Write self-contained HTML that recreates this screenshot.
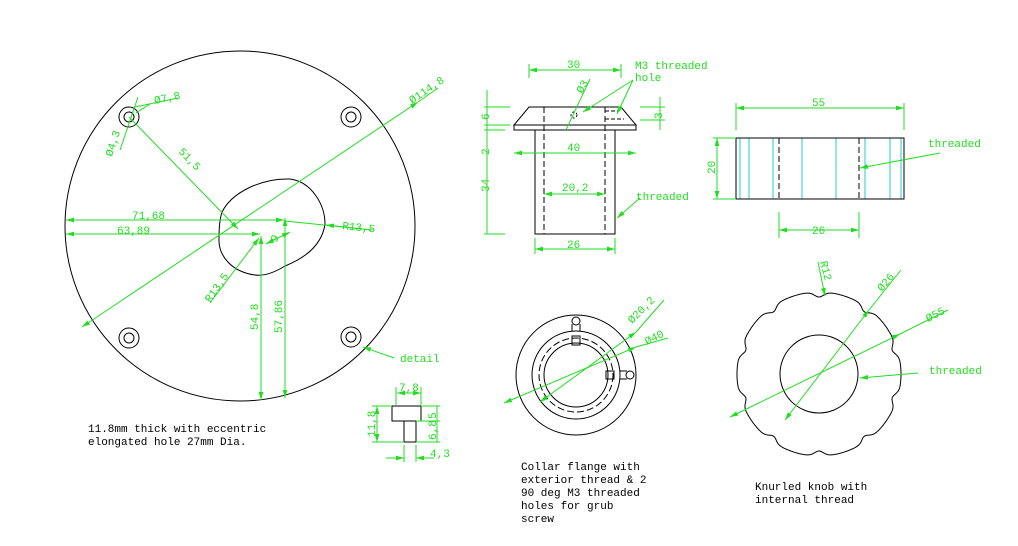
<!DOCTYPE html>
<html><head><meta charset="utf-8"><style>
html,body{margin:0;padding:0;background:#fff}
svg{display:block}
text{font-family:"Liberation Mono",monospace;font-size:11px}
.g{fill:#22dd22}
.k{stroke:#000;fill:none;stroke-width:1}
.gl{stroke:#22dd22;fill:none;stroke-width:1}
.c{stroke:#22cccc;fill:none;stroke-width:1}
.d{stroke:#000;fill:none;stroke-width:1;stroke-dasharray:6,3}
</style></head><body>
<svg width="1018" height="546" viewBox="0 0 1018 546" xmlns="http://www.w3.org/2000/svg">
<defs>
<marker id="a" viewBox="0 0 10 6" refX="10" refY="3" markerWidth="8" markerHeight="5" orient="auto-start-reverse"><path d="M0,0 L10,3 L0,6 Z" fill="#22dd22"/></marker>
</defs>
<!-- Big plate -->
<circle class="k" cx="240" cy="226" r="175"/>
<circle class="k" cx="129" cy="117" r="10"/><circle class="k" cx="129" cy="117" r="5"/>
<circle class="k" cx="351" cy="117" r="10"/><circle class="k" cx="351" cy="117" r="5"/>
<circle class="k" cx="129" cy="338" r="10"/><circle class="k" cx="129" cy="338" r="5"/>
<circle class="k" cx="351" cy="337" r="10"/><circle class="k" cx="351" cy="337" r="5"/>
<path class="k" d="M222,212 C232,192 262,178 290,179 C312,182 325,205 325,224 C322,245 305,258 285,266 C272,274 262,276 255,275 C232,272 218,256 219,238 C219,228 220,218 222,212 Z"/>
<g class="gl">
<line x1="66" y1="220" x2="284" y2="220" marker-start="url(#a)" marker-end="url(#a)"/>
<line x1="66" y1="234" x2="260" y2="234" marker-start="url(#a)" marker-end="url(#a)"/>
<line x1="261" y1="236" x2="261" y2="400" marker-start="url(#a)" marker-end="url(#a)"/>
<line x1="285" y1="218" x2="285" y2="398" marker-start="url(#a)" marker-end="url(#a)"/>
<line x1="82" y1="327" x2="418" y2="102" marker-start="url(#a)" marker-end="url(#a)"/>
<line x1="418" y1="102" x2="438" y2="88"/>
<line x1="129" y1="117" x2="238" y2="229" marker-end="url(#a)"/>
<line x1="285" y1="221" x2="372" y2="230" /><line x1="372" y1="230" x2="326" y2="225" marker-end="url(#a)"/>
<line x1="210" y1="303" x2="259" y2="238" marker-end="url(#a)"/>
<line x1="266" y1="244" x2="290" y2="232" marker-start="url(#a)" marker-end="url(#a)"/>
<line x1="135" y1="107" x2="178" y2="98"/><line x1="150" y1="104" x2="136" y2="113" />
<line x1="138" y1="97" x2="120" y2="150"/>
<line x1="394" y1="358" x2="363" y2="347" marker-end="url(#a)"/>
</g>
<text class="g" x="132" y="219">71,68</text>
<text class="g" x="117" y="234">63,89</text>
<text class="g" transform="translate(258,330) rotate(-90)">54,8</text>
<text class="g" transform="translate(282,333) rotate(-90)">57,86</text>
<text class="g" transform="translate(412,104) rotate(-34)">Ø114,8</text>
<text class="g" transform="translate(178,152) rotate(46)">51,5</text>
<text class="g" x="342" y="229" transform="rotate(6,342,229)">R13,5</text>
<text class="g" transform="translate(210,303) rotate(-55)">R13,5</text>
<text class="g" transform="translate(276,243) rotate(-60)">9</text>
<text class="g" x="155" y="104" transform="rotate(-12,155,104)">Ø7,8</text>
<text class="g" transform="translate(112,157) rotate(-72)">Ø4,3</text>
<text class="g" x="400" y="362">detail</text>
<text x="88" y="432">11.8mm thick with eccentric</text>
<text x="88" y="445">elongated hole 27mm Dia.</text>
<!-- detail -->
<path class="k" d="M392,406 H421 V421 H392 Z M404,421 V442 M416,421 V442 M404,442 H416"/>
<g class="gl">
<line x1="397" y1="393" x2="421" y2="393" marker-start="url(#a)" marker-end="url(#a)"/>
<line x1="396" y1="387" x2="396" y2="405"/><line x1="421" y1="387" x2="421" y2="405"/>
<line x1="377" y1="406" x2="377" y2="442" marker-start="url(#a)" marker-end="url(#a)"/>
<line x1="372" y1="406" x2="392" y2="406"/><line x1="372" y1="442" x2="404" y2="442"/>
<line x1="421" y1="406" x2="440" y2="406"/><line x1="416" y1="421" x2="440" y2="421"/><line x1="416" y1="442" x2="440" y2="442"/>
<line x1="437" y1="406" x2="437" y2="442"/>
<line x1="386" y1="458" x2="404" y2="458" marker-end="url(#a)"/><line x1="434" y1="458" x2="416" y2="458" marker-end="url(#a)"/>
<line x1="404" y1="445" x2="404" y2="462"/><line x1="416" y1="445" x2="416" y2="462"/>
</g>
<text class="g" x="399" y="391">7,8</text>
<text class="g" transform="translate(375,437) rotate(-90)">11,8</text>
<text class="g" transform="translate(436,419) rotate(-90)">5</text>
<text class="g" transform="translate(436,440) rotate(-90)">6,8</text>
<text class="g" x="430" y="457">4,3</text>
<!-- collar side -->
<path class="k" d="M529,107 H621 L636,125 H514 Z M514,125 H636 V130 H514 Z M535,130 V234 H615 V130"/>
<line class="d" x1="544" y1="107" x2="544" y2="234"/>
<line class="d" x1="605" y1="107" x2="605" y2="234"/>
<circle class="d" cx="574" cy="115" r="3" style="stroke-dasharray:2,2"/>
<path class="d" d="M605,111 H618 M605,119 H624" style="stroke-dasharray:4,2"/>
<g class="gl">
<line x1="529" y1="70" x2="621" y2="70" marker-start="url(#a)" marker-end="url(#a)"/>
<line x1="529" y1="64" x2="529" y2="78"/><line x1="621" y1="64" x2="621" y2="78"/>
<line x1="514" y1="153" x2="636" y2="153" marker-start="url(#a)" marker-end="url(#a)"/>
<line x1="544" y1="194" x2="605" y2="194" marker-start="url(#a)" marker-end="url(#a)"/>
<line x1="535" y1="249" x2="615" y2="249" marker-start="url(#a)" marker-end="url(#a)"/>
<line x1="535" y1="238" x2="535" y2="254"/><line x1="615" y1="238" x2="615" y2="254"/>
<line x1="487" y1="90" x2="487" y2="234"/>
<line x1="484" y1="107" x2="510" y2="107"/><line x1="484" y1="125" x2="510" y2="125"/><line x1="484" y1="130" x2="505" y2="130"/><line x1="484" y1="234" x2="505" y2="234"/>
<line x1="660" y1="97" x2="660" y2="130"/><line x1="640" y1="107" x2="665" y2="107"/><line x1="640" y1="120" x2="665" y2="120"/>
<line x1="590" y1="79" x2="566" y2="130"/>
<line x1="633" y1="80" x2="583" y2="112" marker-end="url(#a)"/>
<line x1="633" y1="80" x2="617" y2="114" marker-end="url(#a)"/>
<line x1="640" y1="198" x2="617" y2="218" marker-end="url(#a)"/>
</g>
<text class="g" x="567" y="68">30</text>
<text class="g" x="567" y="151">40</text>
<text class="g" x="562" y="191">20,2</text>
<text class="g" x="567" y="248">26</text>
<text class="g" transform="translate(489,120) rotate(-90)">6</text>
<text class="g" transform="translate(489,155) rotate(-90)">2</text>
<text class="g" transform="translate(489,192) rotate(-90)">34</text>
<text class="g" transform="translate(662,119) rotate(-90)">3</text>
<text class="g" transform="translate(582,94) rotate(-60)">Ø3</text>
<text class="g" x="635" y="69">M3 threaded</text>
<text class="g" x="635" y="81">hole</text>
<text class="g" x="636" y="200">threaded</text>
<!-- cylinder -->
<g class="c"><line x1="740" y1="138" x2="740" y2="199"/><line x1="749" y1="138" x2="749" y2="199"/><line x1="773" y1="138" x2="773" y2="199"/><line x1="802" y1="138" x2="802" y2="199"/><line x1="836" y1="138" x2="836" y2="199"/><line x1="865" y1="138" x2="865" y2="199"/><line x1="890" y1="138" x2="890" y2="199"/><line x1="901" y1="138" x2="901" y2="199"/></g>
<rect class="k" x="736" y="138" width="168" height="61"/>
<line class="d" x1="779" y1="138" x2="779" y2="199"/><line class="d" x1="859" y1="138" x2="859" y2="199"/>
<g class="gl">
<line x1="736" y1="108" x2="904" y2="108" marker-start="url(#a)" marker-end="url(#a)"/>
<line x1="736" y1="103" x2="736" y2="130"/><line x1="904" y1="103" x2="904" y2="130"/>
<line x1="717" y1="138" x2="717" y2="199" marker-start="url(#a)" marker-end="url(#a)"/>
<line x1="713" y1="138" x2="736" y2="138"/><line x1="713" y1="199" x2="736" y2="199"/>
<line x1="779" y1="230" x2="859" y2="230" marker-start="url(#a)" marker-end="url(#a)"/>
<line x1="779" y1="212" x2="779" y2="238"/><line x1="859" y1="212" x2="859" y2="238"/>
<line x1="940" y1="153" x2="860" y2="168" marker-end="url(#a)"/>
</g>
<text class="g" x="812" y="106">55</text>
<text class="g" transform="translate(715,174) rotate(-90)">20</text>
<text class="g" x="812" y="234">26</text>
<text class="g" x="928" y="147">threaded</text>
<!-- collar top -->
<circle class="k" cx="576" cy="375" r="60"/>
<circle class="k" cx="576" cy="375" r="44"/>
<circle class="d" cx="576" cy="375" r="37" style="stroke-dasharray:7,3"/>
<circle class="k" cx="576" cy="375" r="32"/>
<circle class="k" cx="576" cy="321" r="4"/><path class="k" d="M572,324 V331 M580,324 V331 M572,336 H580 V345 H572 Z"/>
<circle class="k" cx="630" cy="375" r="4"/><path class="k" d="M620,371 H627 M620,379 H627 M606,371 H614 V379 H606 Z"/>
<g class="gl">
<line x1="540" y1="402" x2="636" y2="332" marker-start="url(#a)" marker-end="url(#a)"/><line x1="636" y1="332" x2="664" y2="300"/>
<line x1="504" y1="403" x2="636" y2="347" marker-start="url(#a)" marker-end="url(#a)"/><line x1="636" y1="347" x2="668" y2="338"/>
</g>
<text class="g" transform="translate(632,324) rotate(-45)">Ø20,2</text>
<text class="g" transform="translate(647,345) rotate(-27)">Ø40</text>
<text x="521" y="470">Collar flange with</text>
<text x="521" y="483">exterior thread &amp; 2</text>
<text x="521" y="496">90 deg M3 threaded</text>
<text x="521" y="509">holes for grub</text>
<text x="521" y="522">screw</text>
<!-- knob -->
<path id="knob" class="k" d=""/>
<circle class="k" cx="819" cy="374" r="39"/>
<g class="gl">
<line x1="785" y1="420" x2="869" y2="310" marker-start="url(#a)" marker-end="url(#a)"/><line x1="869" y1="310" x2="901" y2="270"/>
<line x1="730" y1="417" x2="900" y2="334" marker-start="url(#a)" marker-end="url(#a)"/><line x1="900" y1="334" x2="948" y2="310"/>
<line x1="818" y1="262" x2="825" y2="296" marker-end="url(#a)"/>
<line x1="918" y1="373" x2="860" y2="378" marker-end="url(#a)"/>
</g>
<text class="g" transform="translate(820,262) rotate(75)">R12</text>
<text class="g" transform="translate(882,292) rotate(-50)">Ø26</text>
<text class="g" transform="translate(928,322) rotate(-27)">Ø55</text>
<text class="g" x="929" y="374">threaded</text>
<text x="755" y="490">Knurled knob with</text>
<text x="755" y="503">internal thread</text>
</svg>
<script>
(function(){var cx=819,cy=374,n=10,pts=[];for(var i=0;i<=900;i++){var t=i/900*2*Math.PI;var u=(t*n/(2*Math.PI))%1;var x=(u-0.5)/0.13;var r=82-5*Math.exp(-x*x)-1.5*(1-Math.cos(2*Math.PI*(u-0.5)))/2*0;var a=t-Math.PI/2+Math.PI/n;pts.push((cx+r*Math.cos(a)).toFixed(1)+','+(cy+r*Math.sin(a)).toFixed(1));}
document.getElementById('knob').setAttribute('d','M'+pts.join(' L')+'Z');})();
</script>
</body></html>
